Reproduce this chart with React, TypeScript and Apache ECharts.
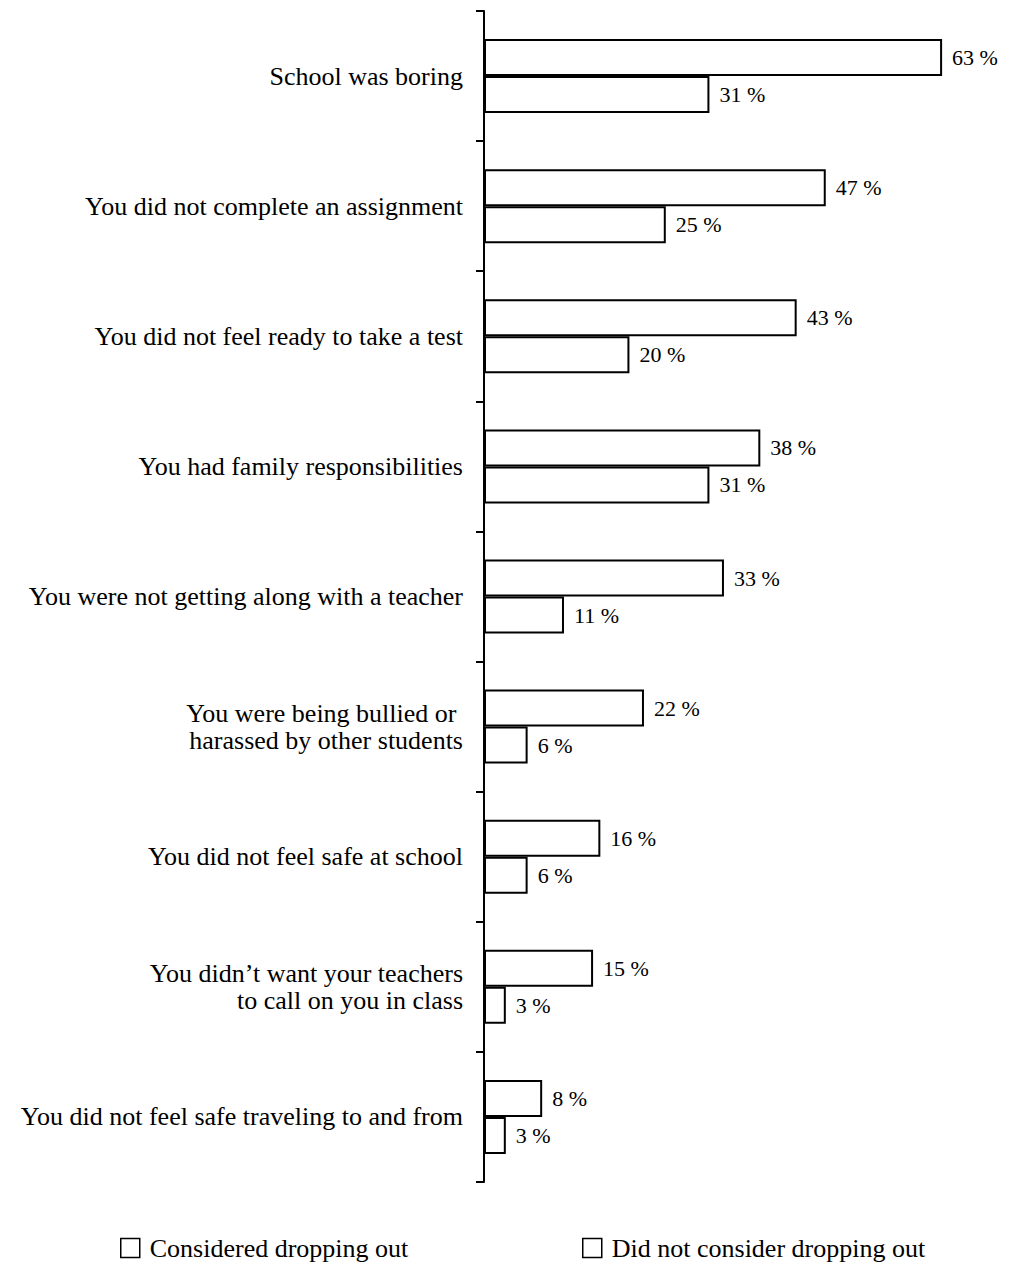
import React, { useEffect, useRef } from "react";
import * as echarts from "echarts";

const categories = [
  "School was boring",
  "You did not complete an assignment",
  "You did not feel ready to take a test",
  "You had family responsibilities",
  "You were not getting along with a teacher",
  "You were being bullied or \nharassed by other students",
  "You did not feel safe at school",
  "You didn\u2019t want your teachers\nto call on you in class",
  "You did not feel safe traveling to and from",
];
const considered = [63, 47, 43, 38, 33, 22, 16, 15, 8];
const notConsidered = [31, 25, 20, 31, 11, 6, 6, 3, 3];
const seriesNames = ["Considered dropping out", "Did not consider dropping out"];

const FONT = "Liberation Serif";

export default function App() {
  const ref = useRef<HTMLDivElement>(null);
  useEffect(() => {
    document.body.style.margin = "0";
    const chart = echarts.init(ref.current!, null, { renderer: "svg" });
    const barStyle = { color: "#ffffff", borderColor: "#000000", borderWidth: 2 };
    const label = {
      show: true,
      position: "right" as const,
      distance: 10,
      formatter: "{c} %",
      fontFamily: FONT,
      fontSize: 22,
      color: "#000",
    };
    const legendCommon = {
      top: 1235,
      icon: "rect",
      itemWidth: 19,
      itemHeight: 19,
      itemGap: 6,
      padding: 0,
      textStyle: { fontFamily: FONT, fontSize: 26, color: "#000", padding: [0, 0, 0, 5] },
      itemStyle: { color: "#fff", borderColor: "#000", borderWidth: 1.5 },
    };
    chart.setOption({
      animation: false,
      backgroundColor: "#ffffff",
      textStyle: { fontFamily: FONT, color: "#000" },
      grid: { left: 484, top: 11, width: 509, height: 1171, containLabel: false },
      xAxis: {
        type: "value",
        min: 0,
        max: 70,
        show: false,
      },
      yAxis: {
        type: "category",
        inverse: true,
        data: categories,
        axisLine: { show: true, lineStyle: { color: "#000", width: 2 } },
        axisTick: { show: true, length: 8, lineStyle: { color: "#000", width: 2 } },
        axisLabel: {
          margin: 21,
          fontFamily: FONT,
          fontSize: 26,
          color: "#000",
          lineHeight: 27,
          align: "right",
        },
        splitLine: { show: false },
      },
      legend: [
        { ...legendCommon, data: [seriesNames[0]], left: 120 },
        { ...legendCommon, data: [seriesNames[1]], left: 582 },
      ],
      series: [
        {
          name: seriesNames[0],
          type: "bar",
          data: considered,
          barWidth: 37,
          barGap: "0%",
          itemStyle: barStyle,
          label,
        },
        {
          name: seriesNames[1],
          type: "bar",
          data: notConsidered,
          barWidth: 37,
          barGap: "0%",
          itemStyle: barStyle,
          label,
        },
      ],
    });
    return () => chart.dispose();
  }, []);
  return <div ref={ref} style={{ width: 1010, height: 1264 }} />;
}
